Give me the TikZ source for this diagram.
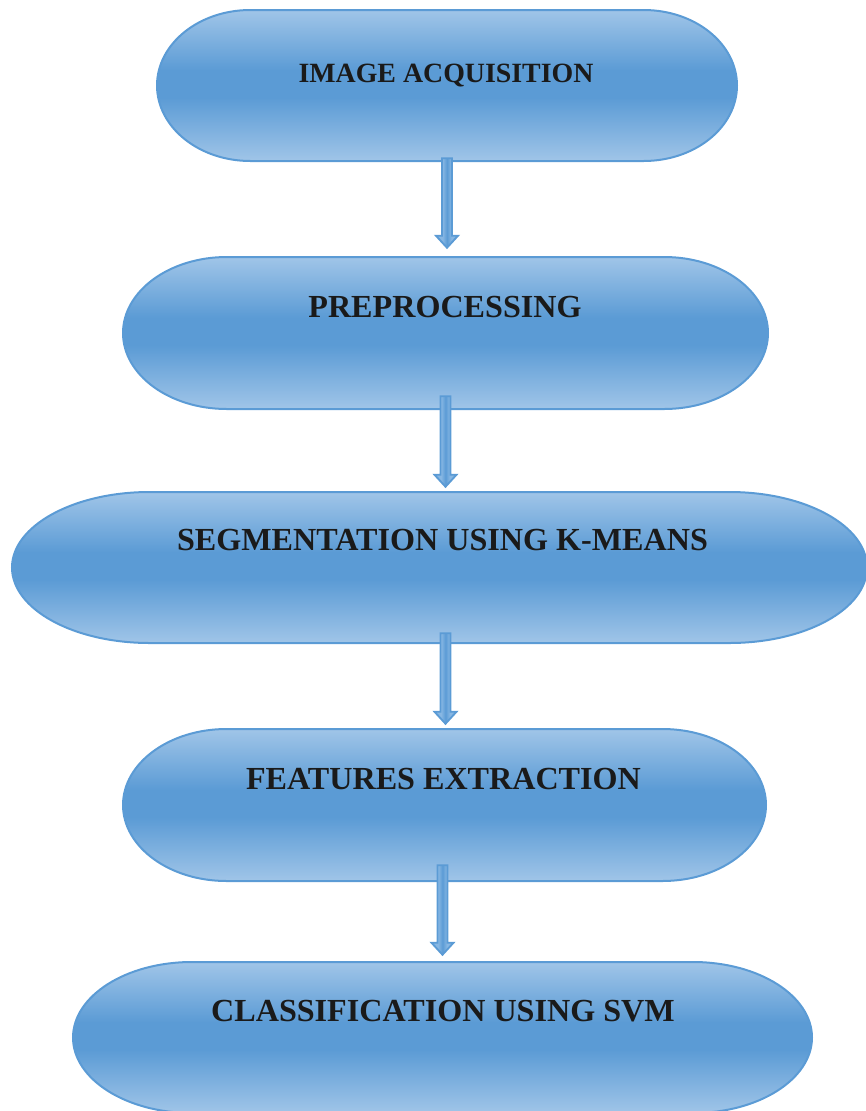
\documentclass[tikz,border=0pt]{standalone}
\usepackage{fontspec}
\setmainfont{Liberation Serif}
\usetikzlibrary{calc,fit}
\definecolor{bluelt}{RGB}{160,197,232}
\definecolor{bluedk}{RGB}{91,155,213}
\definecolor{blueedge}{RGB}{91,155,213}
\definecolor{arrlt}{RGB}{135,183,227}
\definecolor{txt}{RGB}{26,26,26}
\pgfdeclareverticalshading{termshade}{100bp}{color(0bp)=(bluelt); color(25bp)=(bluelt); color(46bp)=(bluedk); color(55bp)=(bluedk); color(75bp)=(bluelt); color(100bp)=(bluelt)}
\pgfdeclarehorizontalshading{arrshade}{100bp}{color(0bp)=(arrlt); color(40bp)=(arrlt); color(50bp)=(bluedk); color(60bp)=(arrlt); color(100bp)=(arrlt)}
\tikzset{
  termstyle/.style={shade, shading=termshade, draw=blueedge, line width=1.5pt},
  arrstyle/.style={shade, shading=arrshade, draw=blueedge, line width=1.4pt, line join=miter},
  boxfit/.style={inner sep=0pt, draw=none},
  lbl/.style={anchor=base, text=txt, font=\bfseries\fontsize{24.1pt}{28pt}\selectfont, inner sep=0pt},
  lblsmall/.style={lbl, font=\bfseries\fontsize{20.9pt}{24pt}\selectfont}
}
% name, left, top, right, bottom (px, y downward)
\newcommand\termbox[5]{%
  \pgfmathsetmacro\trx{0.161*(#4-#2)}%
  \pgfmathsetmacro\try{(#5-#3)/2}%
  \pgfmathsetmacro\txa{#2+\trx}%
  \pgfmathsetmacro\txb{#4-\trx}%
  \node[boxfit, fit={(#2,#3)(#4,#5)}] (#1) {};
  \path[termstyle] (\txa,#3) -- (\txb,#3)
    arc[start angle=-90, end angle=90, x radius=\trx, y radius=\try]
    -- (\txa,#5)
    arc[start angle=90, end angle=270, x radius=\trx, y radius=\try] -- cycle;
}
% from node, to node, x offset, inset into source, gap above target
\newcommand\blockarrow[5]{%
  \coordinate (s) at ($(#1.south)+(#3,-#4)$);
  \coordinate (e) at ($(s |- #2.north)+(0,-#5)$);
  \path[arrstyle] ($(s)+(-5,0)$) -- ($(s)+(5,0)$) -- ($(e)+(5,-12)$)
    -- ($(e)+(11,-12)$) -- (e) -- ($(e)+(-11,-12)$) -- ($(e)+(-5,-12)$) -- cycle;
}
\begin{document}
\begin{tikzpicture}[x=0.75pt,y=-0.75pt]
\useasboundingbox (0,0) rectangle (865,1111);
\termbox{b1}{157}{10}{737}{161}
\termbox{b2}{123}{257}{768}{409}
\termbox{b3}{12}{492}{867}{643}
\termbox{b4}{123}{729}{766}{881}
\termbox{b5}{73}{962}{812}{1113}
\node[lblsmall] (t1) at (446,82) {IMAGE ACQUISITION};
\node[lbl] (t2) at (445,317) {PREPROCESSING};
\node[lbl] (t3) at (442.5,550.5) {SEGMENTATION USING K-MEANS};
\node[lbl] (t4) at (443.5,789) {FEATURES EXTRACTION};
\node[lbl] (t5) at (443,1021) {CLASSIFICATION USING SVM};
\blockarrow{b1}{b2}{0}{3}{9}
\blockarrow{b2}{b3}{0}{13}{5}
\blockarrow{b3}{b4}{6}{10}{5}
\blockarrow{b4}{b5}{-2}{16}{7}
\end{tikzpicture}
\end{document}
